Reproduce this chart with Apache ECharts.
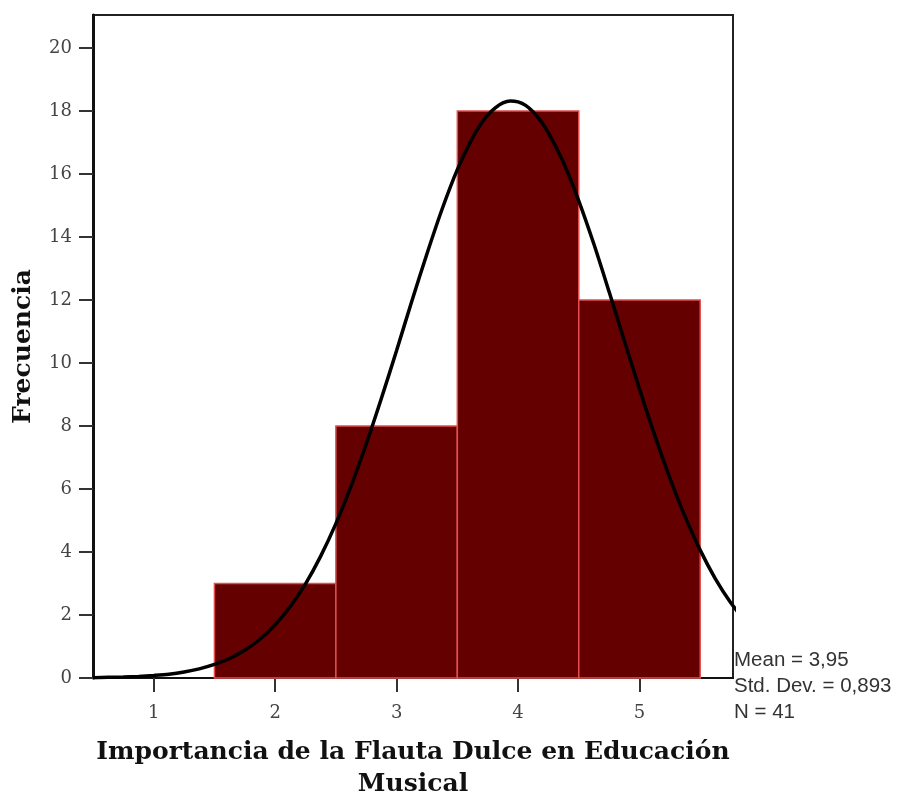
<!DOCTYPE html>
<html>
<head>
<meta charset="utf-8">
<script src="https://cdn.jsdelivr.net/npm/echarts@6/dist/echarts.min.js"></script>
<style>html,body{margin:0;padding:0;background:#fff;}#c{width:903px;height:795px;}</style>
</head>
<body>
<div id="c"></div>
<script>
// Histogram bins (bin centers) and frequencies
const binCenters = [2, 3, 4, 5];
const frequencies = [3, 8, 18, 12];
// Normal curve
const curveX = [0.5, 0.625, 0.75, 0.875, 1.0, 1.125, 1.25, 1.375, 1.5, 1.625, 1.75, 1.875, 2.0, 2.125, 2.25, 2.375, 2.5, 2.625, 2.75, 2.875, 3.0, 3.125, 3.25, 3.375, 3.5, 3.625, 3.6875, 3.75, 3.8125, 3.875, 3.9375, 4.0, 4.0625, 4.125, 4.1875, 4.25, 4.375, 4.5, 4.625, 4.75, 4.875, 5.0, 5.125, 5.25, 5.375, 5.5, 5.625, 5.75, 5.875];
const curveY = [0.01, 0.02, 0.03, 0.05, 0.08, 0.12, 0.19, 0.29, 0.43, 0.62, 0.88, 1.23, 1.69, 2.27, 2.99, 3.87, 4.90, 6.09, 7.43, 8.88, 10.40, 11.96, 13.47, 14.89, 16.14, 17.15, 17.55, 17.87, 18.10, 18.26, 18.32, 18.29, 18.18, 17.97, 17.68, 17.31, 16.36, 15.15, 13.77, 12.26, 10.71, 9.18, 7.71, 6.35, 5.13, 4.06, 3.15, 2.40, 1.79];
const xTicks = [1, 2, 3, 4, 5];
const yTicks = [0, 2, 4, 6, 8, 10, 12, 14, 16, 18, 20];
const statsLines = ['Mean = 3,95', 'Std. Dev. = 0,893', 'N = 41'];

const chart = echarts.init(document.getElementById('c'));
const barData = binCenters.map((c, i) => [c, frequencies[i]]);
const curveData = curveX.map((x, i) => [x, curveY[i]]);

chart.setOption({
  animation: false,
  backgroundColor: '#fff',
  grid: { left: 93, right: 170, top: 15, bottom: 117, containLabel: false, outerBoundsMode: 'none', show: true, borderColor: '#222', borderWidth: 2, backgroundColor: 'transparent' },
  xAxis: {
    type: 'value', min: 0.5, max: 5.77,
    name: 'Importancia de la Flauta Dulce en Educación\nMusical',
    nameLocation: 'middle', nameGap: 58,
    nameTextStyle: { fontFamily: 'DejaVu Serif', fontWeight: 'bold', fontSize: 25, color: '#111', lineHeight: 32 },
    axisLine: { lineStyle: { color: '#111', width: 2 } },
    axisTick: { show: true, length: 14, customValues: xTicks, lineStyle: { color: '#333', width: 2 } },
    axisLabel: { customValues: xTicks, margin: 26, fontFamily: 'DejaVu Serif', fontSize: 18, color: '#444' },
    splitLine: { show: false }
  },
  yAxis: {
    type: 'value', min: 0, max: 21.05,
    name: 'Frecuencia',
    nameLocation: 'middle', nameGap: 57, nameRotate: 90,
    nameTextStyle: { fontFamily: 'DejaVu Serif', fontWeight: 'bold', fontSize: 25, color: '#111' },
    axisLine: { show: true, lineStyle: { color: '#111', width: 3 } },
    axisTick: { show: true, length: 14, customValues: yTicks, lineStyle: { color: '#333', width: 2 } },
    axisLabel: { customValues: yTicks, margin: 21, fontFamily: 'DejaVu Serif', fontSize: 18, color: '#444' },
    splitLine: { show: false }
  },
  graphic: [{
    type: 'text', left: 734, top: 647,
    style: { text: statsLines.join('\n'), font: '20.5px "Liberation Sans"', fill: '#333', lineHeight: 26 }
  }],
  series: [
    {
      type: 'custom',
      data: barData,
      renderItem: function (params, api) {
        const c = api.value(0), v = api.value(1);
        const p0 = api.coord([c - 0.5, v]);
        const p1 = api.coord([c + 0.5, 0]);
        return {
          type: 'rect',
          shape: { x: p0[0], y: p0[1], width: p1[0] - p0[0], height: p1[1] - p0[1] },
          style: { fill: '#640000', stroke: '#e0504f', lineWidth: 1.5 }
        };
      },
      z: 2
    },
    {
      type: 'line', data: curveData, smooth: 0.3, showSymbol: false, clip: true,
      lineStyle: { color: '#000', width: 3.5 }, z: 3
    }
  ]
});
</script>
</body>
</html>
